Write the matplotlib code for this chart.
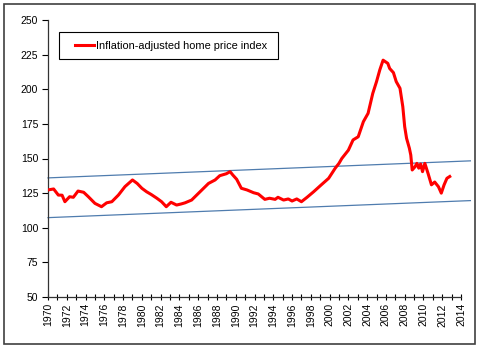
import matplotlib
matplotlib.use("Agg")
import matplotlib.pyplot as plt
from matplotlib.patches import Rectangle
from matplotlib.ticker import MultipleLocator

plt.rcParams['font.family'] = ['Liberation Sans', 'DejaVu Sans']

# Inflation-adjusted home price index
years = [1970.0, 1970.6, 1971.1, 1971.5, 1971.8, 1972.3, 1972.7, 1973.2, 1973.8, 1974.3,
         1975.0, 1975.7, 1976.25, 1976.8, 1977.5, 1978.2, 1979.0, 1979.5, 1980.0, 1980.5,
         1981.0, 1981.6, 1982.1, 1982.6, 1983.1, 1983.7, 1984.2, 1984.6, 1985.3, 1986.2,
         1987.1, 1987.8, 1988.3, 1989.0, 1989.4, 1989.7, 1990.1, 1990.6, 1991.2, 1991.9,
         1992.4, 1993.1, 1993.6, 1994.2, 1994.5, 1995.1, 1995.6, 1996.0, 1996.5, 1997.0,
         1997.6, 1998.3, 1999.1, 1999.9, 2000.6, 2001.0, 2001.3, 2002.0, 2002.5, 2003.05,
         2003.6, 2004.1, 2004.6, 2005.0, 2005.35, 2005.7, 2006.2, 2006.4, 2006.8, 2007.1,
         2007.5, 2007.8, 2008.0, 2008.2, 2008.5, 2008.65, 2008.8, 2009.1, 2009.3, 2009.5,
         2009.7, 2009.9, 2010.15, 2010.5, 2010.85, 2011.2, 2011.6, 2011.9, 2012.2, 2012.5,
         2012.8]
index = [127.3, 128.0, 123.6, 123.5, 118.8, 122.4, 122.0, 126.5, 125.6, 122.4,
         117.6, 115.2, 118.0, 118.8, 123.6, 129.7, 134.5, 132.0, 128.5, 126.0,
         124.0, 121.3, 118.8, 115.2, 118.4, 116.4, 117.2, 118.0, 120.0, 126.0,
         132.0, 134.5, 137.6, 139.0, 140.5, 138.0, 135.0, 128.5, 127.3, 125.3,
         124.4, 120.5, 121.3, 120.5, 122.0, 120.0, 120.8, 119.3, 120.8, 118.8,
         122.0, 126.0, 130.9, 135.7, 143.0, 146.5, 150.0, 156.0, 163.4, 165.7,
         176.6, 182.6, 197.0, 205.5, 214.0, 221.0, 218.7, 215.0, 212.0, 205.5,
         200.7, 187.4, 173.0, 164.6, 157.4, 152.5, 141.7, 144.0, 146.5, 143.0,
         146.0, 140.5, 146.5, 139.0, 131.0, 133.0, 129.6, 125.0, 131.0, 135.7,
         137.0]

trend_x = [1970.0, 2015.0]
trend_upper = [136.0, 148.3]
trend_lower = [107.3, 119.6]

legend_label = "Inflation-adjusted home price index"

W, H = 478, 349
fig = plt.figure(figsize=(W / 100, H / 100), dpi=100)
ax = fig.add_axes([48 / W, 1 - 297 / H, (461 - 48) / W, (297 - 20) / H])

ax.plot(trend_x, trend_upper, color='#4f7cae', lw=0.9, clip_on=False, zorder=2)
ax.plot(trend_x, trend_lower, color='#4f7cae', lw=0.9, clip_on=False, zorder=2)
line, = ax.plot(years, index, color='#ff0000', lw=2.2, zorder=3,
                solid_joinstyle='round', label=legend_label)

ax.set_xlim(1970, 2014)
ax.set_ylim(50, 250)
ax.yaxis.set_major_locator(MultipleLocator(25))
ax.xaxis.set_major_locator(MultipleLocator(2))
ax.xaxis.set_minor_locator(MultipleLocator(1))
ax.tick_params(axis='y', labelsize=7.5, direction='out', length=4, width=0.8, colors='#000000', pad=3)
ax.tick_params(axis='x', which='both', direction='inout', length=5, width=0.8, labelsize=7.5, pad=2)
ax.set_xticklabels([], minor=True)
for lbl in ax.get_xticklabels():
    lbl.set_rotation(90)
for s in ['top', 'right']:
    ax.spines[s].set_visible(False)
for s in ['left', 'bottom']:
    ax.spines[s].set_color('#333333')
    ax.spines[s].set_linewidth(0.9)

# legend box
fig.patches.append(Rectangle((59 / W, 1 - 59 / H), (278 - 59) / W, (59 - 32) / H,
                             transform=fig.transFigure, fill=False,
                             edgecolor='#000000', lw=0.8, zorder=5))
leg = fig.legend(handles=[line], loc='center left', bbox_to_anchor=(75 / W, 1 - 46 / H),
                 bbox_transform=fig.transFigure, frameon=False, fontsize=7.9,
                 handlelength=1.75, handletextpad=0.15, borderpad=0, borderaxespad=0)

fig.patches.append(Rectangle((4 / W, 5 / H), 471 / W, 340 / H, transform=fig.transFigure,
                             fill=False, edgecolor='#404040', lw=1.2))

fig.savefig('out.png', dpi=100)
